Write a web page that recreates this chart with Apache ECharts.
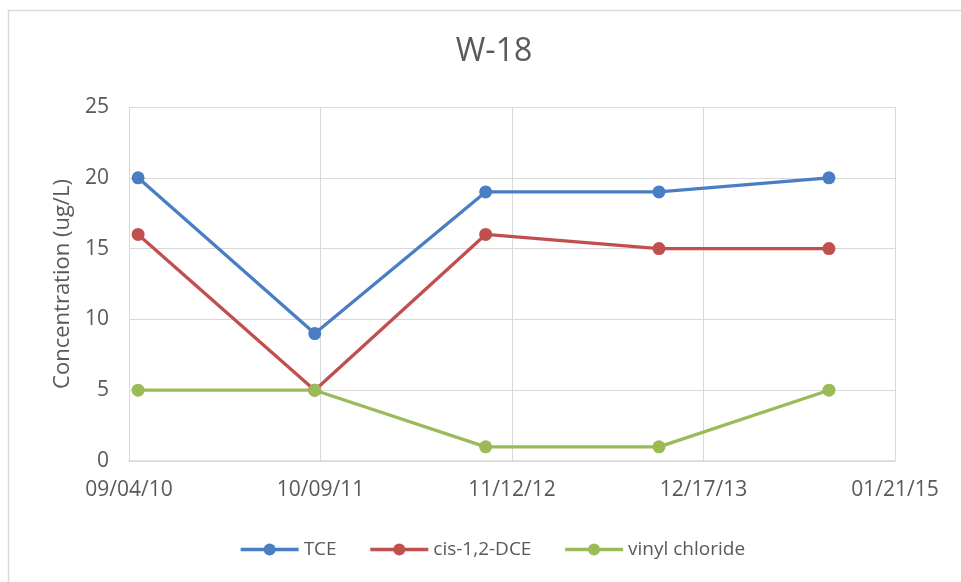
<!DOCTYPE html>
<html>
<head>
<meta charset="utf-8">
<script src="https://cdn.jsdelivr.net/npm/echarts@6/dist/echarts.min.js"></script>
<style>
  html, body { margin: 0; padding: 0; background: #ffffff; }
  #chart { width: 961px; height: 582px; }
</style>
</head>
<body>
<div id="chart"></div>
<script>
// Sampling dates (MM/DD/YY) and concentrations in ug/L for well W-18
const sampleDates = ['09/23/10', '09/27/11', '09/18/12', '09/15/13', '09/05/14'];
const tce = [20, 9, 19, 19, 20];
const cisDce = [16, 5, 16, 15, 15];
const vinylChloride = [5, 5, 1, 1, 5];

// Date axis: starts at 09/04/10 with a tick every 400 days
const axisStart = '09/04/10';
const tickDays = 400;
const axisEndDays = 1600;

const DAY = 86400000;
function parseDate(s) {
  const [m, d, y] = s.split('/').map(Number);
  return Date.UTC(2000 + y, m - 1, d);
}
const origin = parseDate(axisStart);
function dayOffset(s) { return Math.round((parseDate(s) - origin) / DAY); }
function fmtDay(v) {
  const dt = new Date(origin + v * DAY);
  const p = n => String(n).padStart(2, '0');
  return p(dt.getUTCMonth() + 1) + '/' + p(dt.getUTCDate()) + '/' + p(dt.getUTCFullYear() % 100);
}
function pairs(vals) { return sampleDates.map((d, i) => [dayOffset(d), vals[i]]); }

const FONT = '"Open Sans", "Noto Sans", sans-serif';
const TXT = '#595959';
const GRID = '#D9D9D9';

const chart = echarts.init(document.getElementById('chart'), null, { renderer: 'canvas' });

function lineSeries(name, vals, color) {
  return {
    name: name,
    type: 'line',
    data: pairs(vals),
    symbol: 'circle',
    symbolSize: 13,
    lineStyle: { width: 3.3, color: color },
    itemStyle: { color: color },
    emphasis: { disabled: true },
    animation: false
  };
}

chart.setOption({
  backgroundColor: '#ffffff',
  title: {
    text: 'W-18',
    left: 489,
    textAlign: 'center',
    top: 31,
    textStyle: { fontFamily: FONT, fontSize: 32, fontWeight: 'normal', color: TXT }
  },
  graphic: [{
    type: 'rect',
    shape: { x: 8.5, y: 10.5, width: 960, height: 600 },
    style: { fill: 'none', stroke: GRID, lineWidth: 1.5 },
    silent: true
  }],
  legend: {
    left: 234,
    top: 535,
    itemWidth: 58,
    itemHeight: 15,
    itemGap: 32,
    lineStyle: { width: 3.3 },
    textStyle: { fontFamily: FONT, fontSize: 19, color: TXT },
    data: ['TCE', 'cis-1,2-DCE', 'vinyl chloride']
  },
  grid: { left: 129, right: 66, top: 107, bottom: 121, containLabel: false },
  xAxis: {
    type: 'value',
    min: 0,
    max: axisEndDays,
    interval: tickDays,
    axisLine: { show: true, lineStyle: { color: GRID, width: 1.5 } },
    axisTick: { show: false },
    splitLine: { show: true, lineStyle: { color: GRID, width: 1 } },
    axisLabel: {
      margin: 19,
      fontFamily: FONT,
      fontSize: 21,
      color: TXT,
      formatter: v => fmtDay(v)
    }
  },
  yAxis: {
    type: 'value',
    min: 0,
    max: 25,
    interval: 5,
    name: 'Concentration (ug/L)',
    nameLocation: 'middle',
    nameGap: 55,
    nameTextStyle: { fontFamily: FONT, fontSize: 22, color: TXT },
    axisLine: { show: false },
    axisTick: { show: false },
    splitLine: { show: true, lineStyle: { color: GRID, width: 1 } },
    axisLabel: { margin: 20, fontFamily: FONT, fontSize: 21, color: TXT }
  },
  series: [
    lineSeries('TCE', tce, '#4A7EC4'),
    lineSeries('cis-1,2-DCE', cisDce, '#C0504D'),
    lineSeries('vinyl chloride', vinylChloride, '#9BBB59')
  ]
});
</script>
</body>
</html>
